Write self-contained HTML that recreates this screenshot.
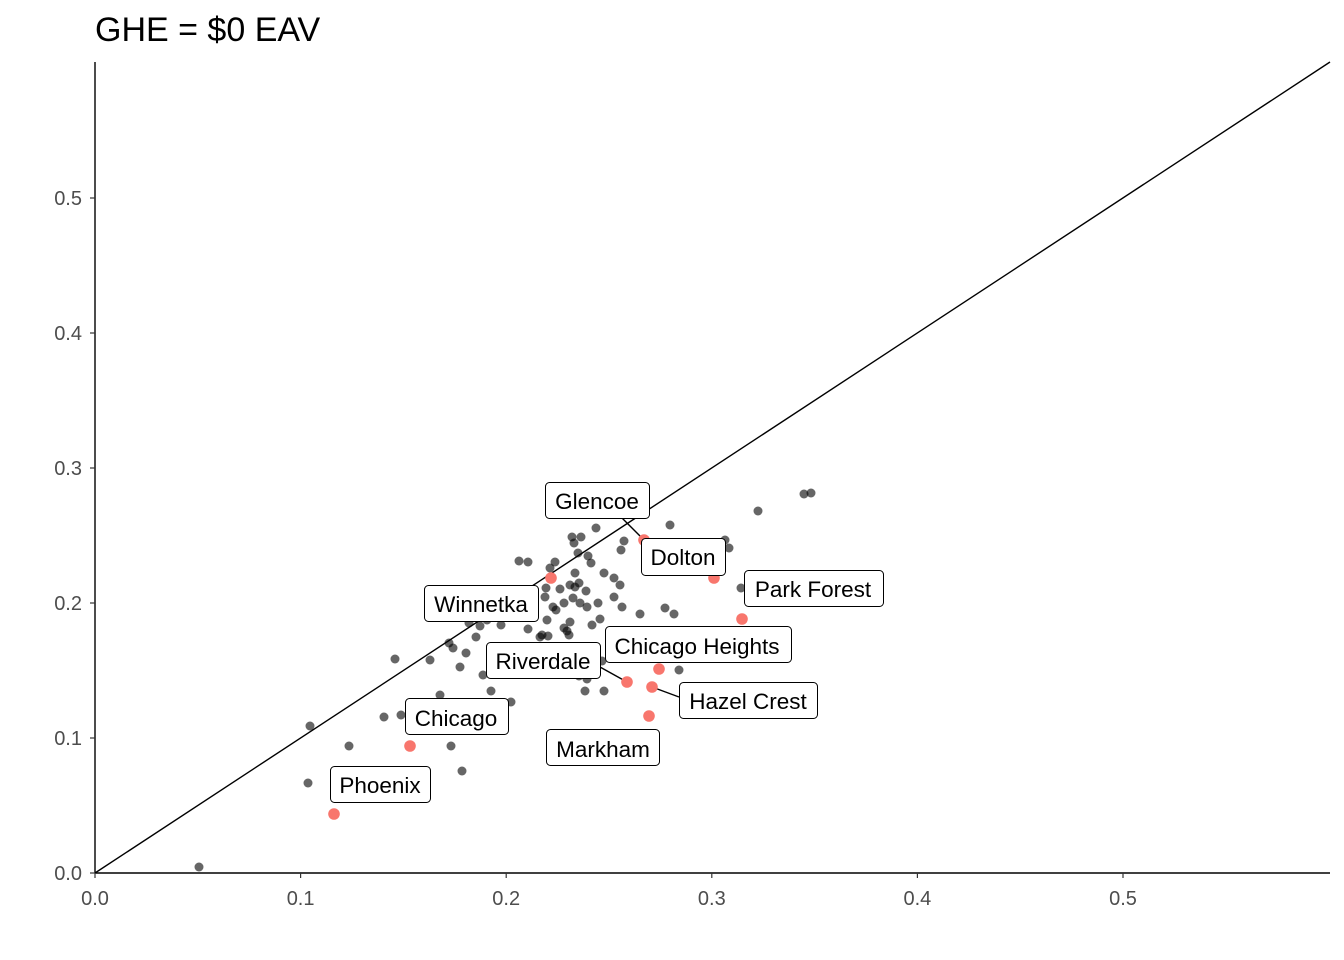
<!DOCTYPE html>
<html><head><style>body{margin:0;background:#fff}svg{display:block}</style></head><body>
<svg width="1344" height="960" viewBox="0 0 1344 960" xmlns="http://www.w3.org/2000/svg" font-family="Liberation Sans, sans-serif">
<rect width="1344" height="960" fill="#fff"/>
<text x="95" y="41" font-size="34" fill="#000">GHE = $0 EAV</text>
<line x1="95" y1="873" x2="1330" y2="62" stroke="#000" stroke-width="1.4"/>
<g fill="#000" fill-opacity="0.6">
<circle cx="199" cy="867" r="4.5"/><circle cx="308" cy="783" r="4.5"/><circle cx="310" cy="726" r="4.5"/><circle cx="349" cy="746" r="4.5"/><circle cx="384" cy="717" r="4.5"/><circle cx="395" cy="659" r="4.5"/><circle cx="401" cy="715" r="4.5"/><circle cx="430" cy="660" r="4.5"/><circle cx="440" cy="695" r="4.5"/><circle cx="449" cy="643" r="4.5"/><circle cx="451" cy="746" r="4.5"/><circle cx="453" cy="648" r="4.5"/><circle cx="462" cy="771" r="4.5"/><circle cx="466" cy="653" r="4.5"/><circle cx="460" cy="667" r="4.5"/><circle cx="476" cy="637" r="4.5"/><circle cx="483" cy="675" r="4.5"/><circle cx="491" cy="691" r="4.5"/><circle cx="501" cy="625" r="4.5"/><circle cx="511" cy="702" r="4.5"/><circle cx="469" cy="623" r="4.5"/><circle cx="480" cy="626" r="4.5"/><circle cx="487" cy="620" r="4.5"/><circle cx="519" cy="561" r="4.5"/><circle cx="528" cy="562" r="4.5"/><circle cx="550" cy="568" r="4.5"/><circle cx="555" cy="562" r="4.5"/><circle cx="546" cy="588" r="4.5"/><circle cx="545" cy="597" r="4.5"/><circle cx="560" cy="589" r="4.5"/><circle cx="553" cy="607" r="4.5"/><circle cx="556" cy="610" r="4.5"/><circle cx="547" cy="620" r="4.5"/><circle cx="564" cy="603" r="4.5"/><circle cx="570" cy="622" r="4.5"/><circle cx="542" cy="635" r="4.5"/><circle cx="540" cy="637" r="4.5"/><circle cx="528" cy="629" r="4.5"/><circle cx="548" cy="636" r="4.5"/><circle cx="572" cy="537" r="4.5"/><circle cx="581" cy="537" r="4.5"/><circle cx="578" cy="553" r="4.5"/><circle cx="574" cy="543" r="4.5"/><circle cx="575" cy="587" r="4.5"/><circle cx="570" cy="585" r="4.5"/><circle cx="586" cy="591" r="4.5"/><circle cx="575" cy="573" r="4.5"/><circle cx="579" cy="583" r="4.5"/><circle cx="596" cy="528" r="4.5"/><circle cx="588" cy="556" r="4.5"/><circle cx="591" cy="563" r="4.5"/><circle cx="604" cy="573" r="4.5"/><circle cx="614" cy="578" r="4.5"/><circle cx="620" cy="585" r="4.5"/><circle cx="624" cy="541" r="4.5"/><circle cx="598" cy="603" r="4.5"/><circle cx="600" cy="619" r="4.5"/><circle cx="592" cy="625" r="4.5"/><circle cx="622" cy="607" r="4.5"/><circle cx="640" cy="614" r="4.5"/><circle cx="665" cy="608" r="4.5"/><circle cx="674" cy="614" r="4.5"/><circle cx="569" cy="635" r="4.5"/><circle cx="567" cy="631" r="4.5"/><circle cx="602" cy="661" r="4.5"/><circle cx="585" cy="691" r="4.5"/><circle cx="604" cy="691" r="4.5"/><circle cx="579" cy="676" r="4.5"/><circle cx="587" cy="679" r="4.5"/><circle cx="670" cy="525" r="4.5"/><circle cx="679" cy="670" r="4.5"/><circle cx="725" cy="540" r="4.5"/><circle cx="729" cy="548" r="4.5"/><circle cx="741" cy="588" r="4.5"/><circle cx="758" cy="511" r="4.5"/><circle cx="804" cy="494" r="4.5"/><circle cx="811" cy="493" r="4.5"/><circle cx="587" cy="607" r="4.5"/><circle cx="564" cy="628" r="4.5"/><circle cx="573" cy="598" r="4.5"/><circle cx="621" cy="550" r="4.5"/><circle cx="614" cy="597" r="4.5"/><circle cx="580" cy="603" r="4.5"/>
</g>
<g stroke="#000" stroke-width="1.4">
<line x1="622" y1="518" x2="644" y2="540"/><line x1="600" y1="667" x2="627" y2="682"/><line x1="679" y1="697" x2="652" y2="687"/>
</g>
<g fill="#F8766D">
<circle cx="644" cy="540" r="5.8"/><circle cx="551" cy="578" r="5.8"/><circle cx="714" cy="578" r="5.8"/><circle cx="742" cy="619" r="5.8"/><circle cx="659" cy="669" r="5.8"/><circle cx="627" cy="682" r="5.8"/><circle cx="652" cy="687" r="5.8"/><circle cx="649" cy="716" r="5.8"/><circle cx="410" cy="746" r="5.8"/><circle cx="334" cy="814" r="5.8"/>
</g>
<g fill="#fff" stroke="#000" stroke-width="1">
<rect x="545.5" y="482.5" width="104" height="36" rx="4"/>
<rect x="641.5" y="538.5" width="84" height="37" rx="4"/>
<rect x="744.5" y="570.5" width="139" height="36" rx="4"/>
<rect x="424.5" y="585.5" width="114" height="36" rx="4"/>
<rect x="605.5" y="626.5" width="186" height="36" rx="4"/>
<rect x="486.5" y="642.5" width="114" height="36" rx="4"/>
<rect x="679.5" y="682.5" width="138" height="36" rx="4"/>
<rect x="405.5" y="698.5" width="103" height="36" rx="4"/>
<rect x="546.5" y="729.5" width="113" height="36" rx="4"/>
<rect x="330.5" y="766.5" width="100" height="36" rx="4"/>
</g>
<g font-size="22.5" fill="#000" text-anchor="middle">
<text x="597" y="509">Glencoe</text>
<text x="683" y="565">Dolton</text>
<text x="813" y="597">Park Forest</text>
<text x="481" y="612">Winnetka</text>
<text x="697" y="654">Chicago Heights</text>
<text x="543" y="669">Riverdale</text>
<text x="748" y="709">Hazel Crest</text>
<text x="456" y="726">Chicago</text>
<text x="603" y="757">Markham</text>
<text x="380" y="793">Phoenix</text>
</g>
<g stroke="#000" stroke-width="1.4">
<line x1="95" y1="62" x2="95" y2="873"/><line x1="95" y1="873" x2="1330" y2="873"/>
</g>
<g stroke="#333" stroke-width="1.2">
<line x1="90" y1="873" x2="95" y2="873"/><line x1="90" y1="738" x2="95" y2="738"/><line x1="90" y1="603" x2="95" y2="603"/><line x1="90" y1="468" x2="95" y2="468"/><line x1="90" y1="333" x2="95" y2="333"/><line x1="90" y1="198" x2="95" y2="198"/>
<line x1="95" y1="873" x2="95" y2="878"/><line x1="300.6" y1="873" x2="300.6" y2="878"/><line x1="506.2" y1="873" x2="506.2" y2="878"/><line x1="711.8" y1="873" x2="711.8" y2="878"/><line x1="917.4" y1="873" x2="917.4" y2="878"/><line x1="1123" y1="873" x2="1123" y2="878"/>
</g>
<g font-size="20" fill="#4d4d4d" text-anchor="end">
<text x="82" y="880">0.0</text><text x="82" y="745">0.1</text><text x="82" y="610">0.2</text><text x="82" y="475">0.3</text><text x="82" y="340">0.4</text><text x="82" y="205">0.5</text>
</g>
<g font-size="20" fill="#4d4d4d" text-anchor="middle">
<text x="95" y="905">0.0</text><text x="300.6" y="905">0.1</text><text x="506.2" y="905">0.2</text><text x="711.8" y="905">0.3</text><text x="917.4" y="905">0.4</text><text x="1123" y="905">0.5</text>
</g>
</svg>
</body></html>
